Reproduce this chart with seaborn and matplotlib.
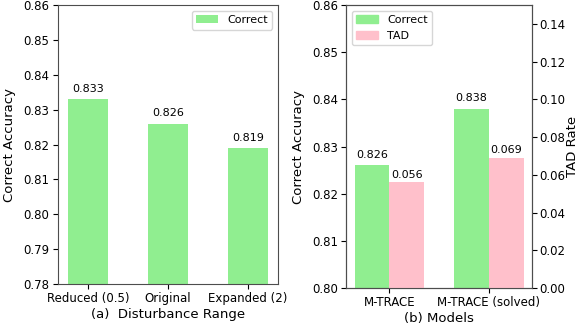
import pandas as pd
import numpy as np
import matplotlib
matplotlib.use("Agg")
import matplotlib.pyplot as plt
import seaborn as sns

# panel (a)
ranges = ["Reduced (0.5)", "Original", "Expanded (2)"]
range_correct = [0.833, 0.826, 0.819]

# panel (b)
models = ["M-TRACE", "M-TRACE (solved)"]
model_correct = [0.826, 0.838]
model_tad = [0.056, 0.069]

GREEN = "lightgreen"
PINK = "pink"


def main():
    plt.rcParams["axes.edgecolor"] = "0.3"
    fig = plt.figure(figsize=(5.79, 3.25), dpi=100)
    ax1 = fig.add_axes([0.100, 0.126, 0.380, 0.858])
    ax2 = fig.add_axes([0.598, 0.114, 0.321, 0.870])

    # (a) disturbance range
    df_a = pd.DataFrame({"range": ranges, "value": range_correct})
    sns.barplot(data=df_a, x="range", y="value", color=GREEN, width=0.5,
                label="Correct", ax=ax1, saturation=1)
    ax1.set_xlim(-0.375, 2.375)
    ax1.set_ylim(0.78, 0.86)
    ax1.bar_label(ax1.containers[0], fmt="%.3f", padding=4, fontsize=8)
    ax1.set_xlabel("(a)  Disturbance Range", fontsize=9.5, labelpad=2)
    ax1.set_ylabel("Correct Accuracy", fontsize=9.5, labelpad=5)
    ax1.tick_params(labelsize=8.5, pad=2.5)
    ax1.legend(loc="upper right", fontsize=8)

    # (b) models, two metrics on two y axes
    df_b = pd.DataFrame({
        "model": models * 2,
        "metric": ["Correct"] * len(models) + ["TAD"] * len(models),
        "value": model_correct + model_tad,
    })
    palette = {"Correct": GREEN, "TAD": PINK}
    hue_order = ["Correct", "TAD"]
    ax3 = ax2.twinx()
    df_left = df_b.copy()
    df_left.loc[df_left.metric == "TAD", "value"] = np.nan
    df_right = df_b.copy()
    df_right.loc[df_right.metric == "Correct", "value"] = np.nan
    sns.barplot(data=df_left, x="model", y="value", hue="metric",
                hue_order=hue_order, palette=palette, width=0.7, dodge=True,
                order=models, ax=ax2, saturation=1, legend=False)
    sns.barplot(data=df_right, x="model", y="value", hue="metric",
                hue_order=hue_order, palette=palette, width=0.7, dodge=True,
                order=models, ax=ax3, saturation=1, legend=False)
    ax2.set_xlim(-0.435, 1.435)
    ax2.set_ylim(0.80, 0.86)
    ax3.set_ylim(0.0, 0.15)
    ax3.set_yticks(np.arange(0, 0.15, 0.02))
    for c in ax2.containers:
        ax2.bar_label(c, fmt="%.3f", padding=4, fontsize=8)
    for c in ax3.containers:
        ax3.bar_label(c, fmt="%.3f", padding=2, fontsize=8)
    ax2.set_xlabel("(b) Models", fontsize=9.5, labelpad=2)
    ax2.set_ylabel("Correct Accuracy", fontsize=9.5, labelpad=5)
    ax3.set_ylabel("TAD Rate", fontsize=9.5, labelpad=0)
    ax2.tick_params(labelsize=8.5, pad=2.5)
    ax3.tick_params(labelsize=8.5, pad=2)

    handles = [plt.Rectangle((0, 0), 1, 1, color=palette[m]) for m in hue_order]
    ax2.legend(handles, hue_order, loc="upper left", fontsize=8)

    fig.savefig("out.png", dpi=100)


if __name__ == "__main__":
    main()
